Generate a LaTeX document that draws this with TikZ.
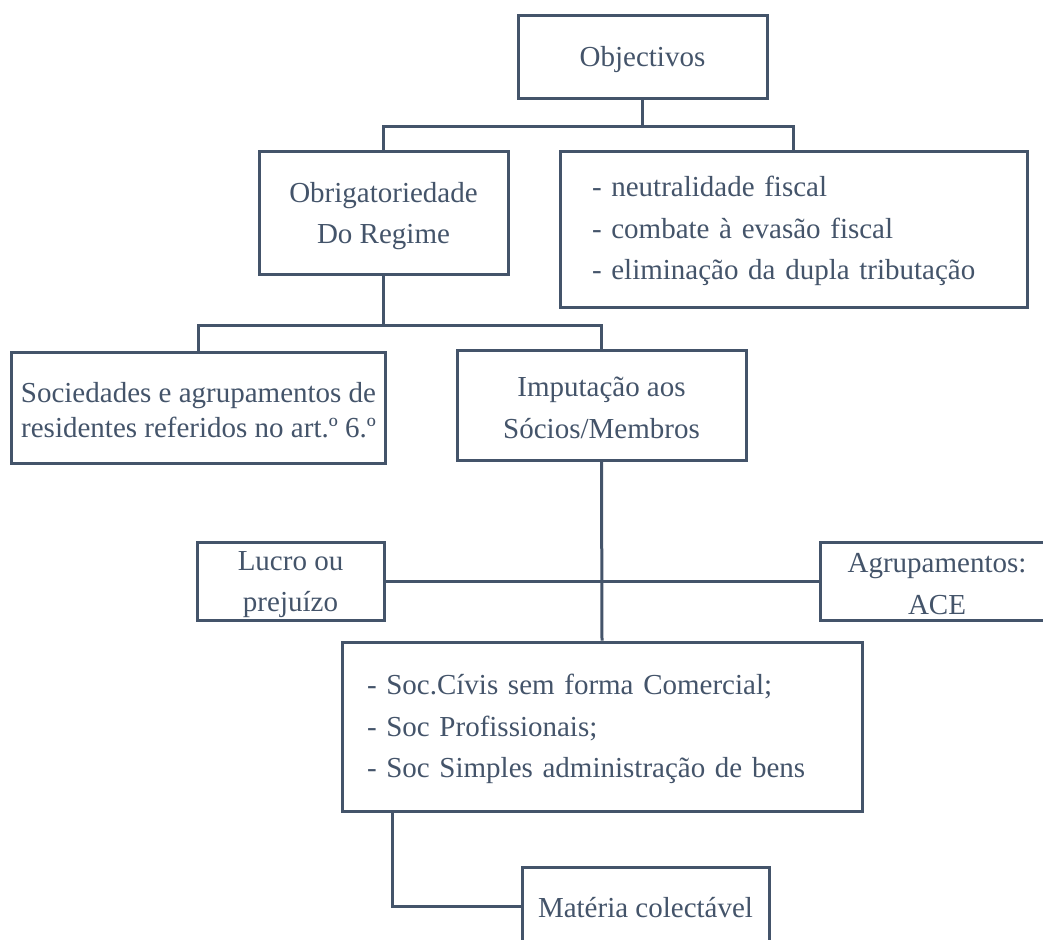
\documentclass[tikz,border=0pt]{standalone}
\usepackage{fontspec}
\setmainfont{Liberation Serif}
\definecolor{slate}{HTML}{44546A}
\tikzset{
  box/.style={draw=slate, line width=3bp, rectangle, inner sep=0pt},
  txt/.style={inner sep=0pt, text=slate, font=\fontsize{29bp}{41.5bp}\selectfont, align=center},
  conn/.style={draw=slate, line width=3bp},
}
\begin{document}
\begin{tikzpicture}[x=1bp,y=-1bp]
\useasboundingbox (0,0) rectangle (1043,940);
\fill[white] (0,0) rectangle (1043,940);
\clip (0,0) rectangle (1043,940);

% boxes
\node[box, minimum width=249bp, minimum height=83bp] (obj) at (642.5,56.5) {};
\node[box, minimum width=249bp, minimum height=123bp] (obr) at (383.5,212.5) {};
\node[box, minimum width=467bp, minimum height=156bp] (neu) at (793.5,229) {};
\node[box, minimum width=373bp, minimum height=111bp] (soc) at (198.5,407.5) {};
\node[box, minimum width=289bp, minimum height=110bp] (imp) at (601.5,405) {};
\node[box, minimum width=187bp, minimum height=78bp] (luc) at (290.5,581) {};
\node[box, minimum width=234bp, minimum height=78bp] (agr) at (937,581) {};
\node[box, minimum width=520bp, minimum height=169bp] (lst) at (602,726.5) {};
\node[box, minimum width=247bp, minimum height=78bp] (mat) at (645.5,906) {};

% texts
\node[txt] (objt) at ([yshift=-3.5bp]obj.center) {Objectivos};
\node[txt] (obrt) at ([yshift=-3.5bp]obr.center) {Obrigatoriedade\\Do Regime};
\node[txt, text width=403bp, align=left] (neut) at ([yshift=-2bp]neu.center)
  {- neutralidade fiscal\\- combate à evasão fiscal\\- eliminação da dupla tributação};
\node[txt, font=\fontsize{29bp}{35bp}\selectfont] (soct) at ([yshift=-3bp]soc.center)
  {Sociedades e agrupamentos de\\residentes referidos no art.º 6.º};
\node[txt] (impt) at ([yshift=-3bp]imp.center) {Imputação aos\\Sócios/Membros};
\node[txt] (luct) at ([yshift=-3.5bp]luc.center) {Lucro ou\\prejuízo};
\node[txt] (agrt) at ([yshift=-3bp]agr.center) {Agrupamentos:\\ACE};
\node[txt, text width=470bp, align=left] (lstt) at ([yshift=-2.5bp]lst.center)
  {- Soc.Cívis sem forma Comercial;\\- Soc Profissionais;\\- Soc Simples administração de bens};
\node[txt] (matt) at ([yshift=-1.5bp]mat.center) {Matéria colectável};

% connectors
\draw[conn] (obj.south) -- ++(0,27) -| (obr.north);
\draw[conn] (obj.south) -- ++(0,27) -| (neu.north);
\draw[conn] (obr.south) -- ++(0,50) -| (soc.north);
\draw[conn] (obr.south) -- ++(0,50) -| (imp.north);
\draw[conn] (imp.south) -- (lst.north);
\draw[conn] (luc.east) -- (agr.west);
\coordinate (lb) at ([xshift=52bp]lst.south west);
\draw[conn] (lb) |- (mat.west);
\end{tikzpicture}
\end{document}
